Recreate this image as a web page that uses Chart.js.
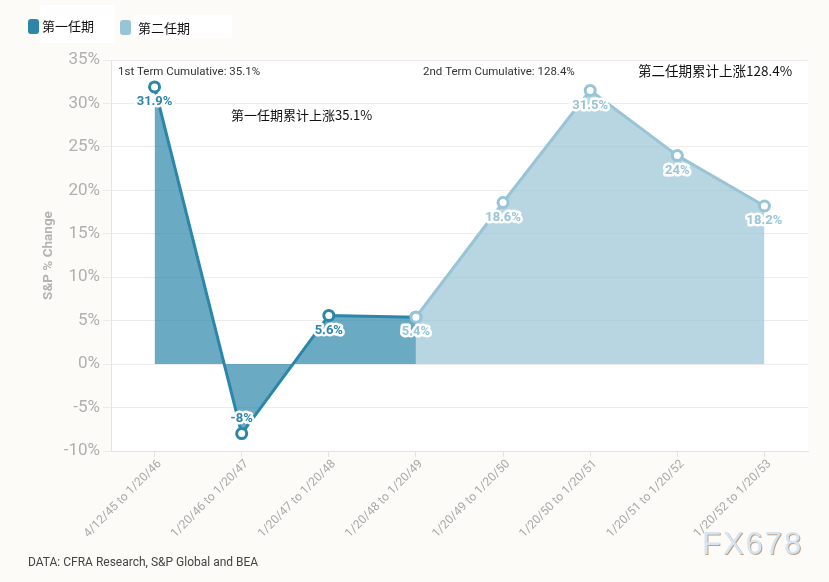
<!DOCTYPE html>
<html>
<head>
<meta charset="utf-8">
<script src="https://cdn.jsdelivr.net/npm/chart.js@4/dist/chart.umd.min.js"></script>
<style>
  html, body { margin: 0; padding: 0; background: #fcfbf7; }
  #wrap { position: relative; width: 829px; height: 582px; }
  canvas { display: block; }
</style>
</head>
<body>
<div id="wrap"><canvas id="c" width="829" height="582"></canvas></div>
<script>
// ---- data ----
const categories = [
  '4/12/45 to 1/20/46', '1/20/46 to 1/20/47', '1/20/47 to 1/20/48', '1/20/48 to 1/20/49',
  '1/20/49 to 1/20/50', '1/20/50 to 1/20/51', '1/20/51 to 1/20/52', '1/20/52 to 1/20/53'
];
const term1Values = [31.9, -8, 5.6, 5.4, null, null, null, null];
const term2Values = [null, null, null, 5.4, 18.6, 31.5, 24, 18.2];
const term1Labels = ['31.9%', '-8%', '5.6%', null, null, null, null, null];
const term2Labels = [null, null, null, '5.4%', '18.6%', '31.5%', '24%', '18.2%'];
const seriesNames = ['第一任期', '第二任期'];
const yMin = -10, yMax = 35, yStep = 5;
const yAxisTitle = 'S&P % Change';
const noteTerm1En = '1st Term Cumulative: 35.1%';
const noteTerm2En = '2nd Term Cumulative: 128.4%';
const noteTerm1Cn = '第一任期累计上涨35.1%';
const noteTerm2Cn = '第二任期累计上涨128.4%';
const sourceText = 'DATA: CFRA Research, S&P Global and BEA';
const watermark = 'FX678';

// ---- styles ----
const C1 = '#2c86a9', C1fill = 'rgba(44,134,169,0.70)';
const C2 = '#98c4d6', C2fill = 'rgba(152,196,214,0.70)';

Chart.defaults.font.family = 'Roboto, "Noto Sans", sans-serif';

const bgPlugin = {
  id: 'bg',
  beforeDraw(chart) {
    const { ctx, chartArea: a } = chart;
    ctx.save();
    ctx.fillStyle = '#ffffff';
    ctx.fillRect(a.left, a.top, a.right - a.left, a.bottom - a.top);
    // legend white boxes
    ctx.fillRect(40, 5, 75, 38);
    ctx.fillRect(133, 15, 99, 23);
    ctx.restore();
  }
};

function roundRect(ctx, x, y, w, h, r) {
  ctx.beginPath();
  ctx.moveTo(x + r, y);
  ctx.arcTo(x + w, y, x + w, y + h, r);
  ctx.arcTo(x + w, y + h, x, y + h, r);
  ctx.arcTo(x, y + h, x, y, r);
  ctx.arcTo(x, y, x + w, y, r);
  ctx.closePath();
}

const overlayPlugin = {
  id: 'overlay',
  afterDatasetsDraw(chart) {
    const { ctx, chartArea: a } = chart;
    ctx.save();
    // data labels
    const labelSets = [term1Labels, term2Labels];
    const colors = [C1, C2];
    ctx.font = 'bold 13px Roboto';
    ctx.textAlign = 'center';
    ctx.textBaseline = 'middle';
    ctx.lineJoin = 'round';
    chart.data.datasets.forEach((ds, di) => {
      const meta = chart.getDatasetMeta(di);
      meta.data.forEach((pt, i) => {
        const txt = labelSets[di][i];
        if (!txt) return;
        const v = ds.data[i];
        const y = v < 0 ? pt.y - 15 : pt.y + 15;
        ctx.strokeStyle = '#ffffff';
        ctx.lineWidth = 5;
        ctx.strokeText(txt, pt.x, y);
        ctx.fillStyle = colors[di];
        ctx.fillText(txt, pt.x, y);
      });
    });
    // notes
    ctx.textAlign = 'left';
    ctx.fillStyle = '#333333';
    ctx.font = '11.5px Roboto';
    ctx.fillText(noteTerm1En, a.left + 7, 72);
    ctx.fillText(noteTerm2En, 423, 72);
    ctx.fillStyle = '#111111';
    ctx.font = '13px "Noto Sans CJK SC"';
    ctx.fillText(noteTerm1Cn, 231, 115);
    ctx.font = '13.5px "Noto Sans CJK SC"';
    ctx.fillText(noteTerm2Cn, 638, 71);
    ctx.restore();
  },
  afterDraw(chart) {
    const { ctx } = chart;
    ctx.save();
    // legend
    ctx.textBaseline = 'middle';
    ctx.textAlign = 'left';
    ctx.fillStyle = C1;
    roundRect(ctx, 28, 19, 11, 15, 3); ctx.fill();
    ctx.fillStyle = C2;
    roundRect(ctx, 120, 20, 11, 15, 3); ctx.fill();
    ctx.fillStyle = '#111111';
    ctx.font = '13px "Noto Sans CJK SC"';
    ctx.fillText(seriesNames[0], 42, 26);
    ctx.fillText(seriesNames[1], 138, 28);
    // source
    ctx.fillStyle = '#444444';
    ctx.font = '12px Roboto';
    ctx.fillText(sourceText, 28, 563);
    // watermark
    ctx.font = '31px "Liberation Sans"';
    if ('letterSpacing' in ctx) ctx.letterSpacing = '2px';
    ctx.fillStyle = '#c2a282';
    ctx.fillText(watermark, 703, 546);
    ctx.fillStyle = '#d6e5f4';
    ctx.fillText(watermark, 702, 545);
    ctx.restore();
  }
};

new Chart(document.getElementById('c'), {
  type: 'line',
  data: {
    labels: categories,
    datasets: [
      {
        label: seriesNames[0],
        data: term1Values,
        borderColor: C1,
        backgroundColor: C1fill,
        fill: 'origin',
        borderWidth: 3,
        pointRadius: 5,
        pointBorderWidth: 3,
        pointBackgroundColor: '#ffffff',
        pointBorderColor: C1,
        tension: 0,
        order: 2
      },
      {
        label: seriesNames[1],
        data: term2Values,
        borderColor: C2,
        backgroundColor: C2fill,
        fill: 'origin',
        borderWidth: 3,
        pointRadius: 5,
        pointBorderWidth: 3,
        pointBackgroundColor: '#ffffff',
        pointBorderColor: C2,
        tension: 0,
        order: 1
      }
    ]
  },
  options: {
    responsive: false,
    animation: false,
    layout: { padding: { top: 60, right: 21, left: 0, bottom: 0 } },
    plugins: {
      legend: { display: false },
      tooltip: { enabled: false }
    },
    scales: {
      x: {
        offset: true,
        grid: { drawOnChartArea: false, drawTicks: true, tickLength: 6, color: '#e4e4e4', offset: false },
        border: { color: '#e4e4e4' },
        ticks: {
          color: '#a9a9a9',
          font: { size: 12 },
          minRotation: 45,
          maxRotation: 45,
          padding: 0,
          labelOffset: 5,
          autoSkip: false
        },
        afterFit(s) { s.height = 131; }
      },
      y: {
        min: yMin,
        max: yMax,
        ticks: {
          stepSize: yStep,
          color: '#b0b0b0',
          font: { size: 17 },
          padding: 3,
          callback: v => v + '%'
        },
        grid: { color: '#ececec', tickLength: 8 },
        border: { color: '#e4e4e4' },
        title: {
          display: true,
          text: yAxisTitle,
          color: '#b3b3b3',
          font: { size: 13.5, weight: 'bold' },
          padding: { top: 41, bottom: 0 }
        },
        afterFit(s) { s.width = 111; }
      }
    }
  },
  plugins: [bgPlugin, overlayPlugin]
});
</script>
</body>
</html>
